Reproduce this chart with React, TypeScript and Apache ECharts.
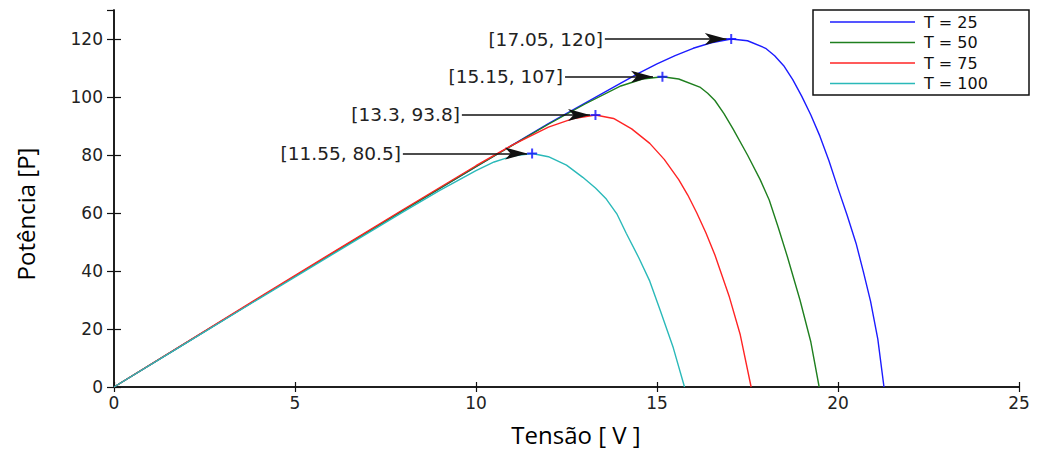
import React, { useEffect, useRef } from "react";
import * as echarts from "echarts";

// ---- data ----
const seriesNames = ["T = 25", "T = 50", "T = 75", "T = 100"];

const v25 = [0, 2, 4, 6, 8, 10, 12, 13, 14, 14.5, 15, 15.5, 16, 16.5, 17.05, 17.5, 18, 18.25, 18.5, 18.75, 19, 19.25, 19.5, 19.75, 20, 20.25, 20.5, 20.7, 20.9, 21.1, 21.27];
const p25 = [0, 15.3, 30.6, 45.8, 61, 76, 90.8, 97.8, 104.8, 108.2, 111.4, 114.3, 116.8, 118.7, 120, 119.4, 116.8, 114.2, 110.8, 106, 100.2, 93.8, 86.5, 78, 68.5, 59.3, 49.5, 39.8, 29.5, 16.5, 0];

const v50 = [0, 2, 4, 6, 8, 10, 12, 13, 14, 14.6, 15.15, 15.6, 16.2, 16.4, 16.6, 16.85, 17.1, 17.5, 17.85, 18.1, 18.35, 18.6, 18.95, 19.25, 19.48];
const p50 = [0, 15.3, 30.6, 45.8, 61, 76, 90.6, 97.5, 103.8, 106.2, 107, 106.2, 103.3, 101.3, 98.8, 94.3, 89, 80, 71.5, 64.5, 55, 45, 30, 15.5, 0];

const v75 = [0, 2, 4, 6, 8, 10, 11, 12, 12.7, 13.3, 13.8, 14.3, 14.8, 15.2, 15.6, 15.85, 16.1, 16.35, 16.6, 17, 17.3, 17.6];
const p75 = [0, 15.4, 30.8, 46.1, 61.3, 76.3, 83.4, 89.6, 92.6, 93.8, 92.6, 89, 84, 78.5, 71.5, 66.2, 60, 53.2, 45.5, 31, 18, 0];

const v100 = [0, 2, 4, 6, 8, 9, 10, 10.5, 11, 11.55, 12, 12.5, 12.95, 13.3, 13.6, 13.9, 14.15, 14.5, 14.8, 15.1, 15.45, 15.76];
const p100 = [0, 15.2, 30.4, 45.5, 60.5, 67.8, 74.6, 77.6, 79.6, 80.5, 79.4, 76.5, 72.3, 68.6, 64.8, 59.5, 53, 44.5, 36.5, 26, 13.5, 0];

const peakV = [17.05, 15.15, 13.3, 11.55];
const peakP = [120, 107, 93.8, 80.5];
// annotation arrow tail / tip (voltage) for each peak label
const arrowTailV = [13.56, 12.46, 9.61, 7.98];
const arrowTipV = [16.93, 14.89, 13.15, 11.41];

const xTicks = { min: 0, max: 25, interval: 5 };
const yTicks = { min: 0, max: 130, interval: 20 };

const colors = ["#1c1cff", "#1f7f1f", "#ff2424", "#2ab9b9"];

const curves = [
  [v25, p25],
  [v50, p50],
  [v75, p75],
  [v100, p100],
];

export default function App() {
  const ref = useRef<HTMLDivElement>(null);

  useEffect(() => {
    if (!ref.current) return;
    const chart = echarts.init(ref.current, undefined, { renderer: "svg" });
    const axisLine = { show: true, lineStyle: { color: "#111", width: 1.5 } };
    const labelFont = { fontFamily: "DejaVu Sans", fontSize: 17, color: "#222" };

    const lineSeries = curves.map(([vs, ps], i) => ({
      name: seriesNames[i],
      type: "line",
      data: vs.map((v, k) => [v, ps[k]]),
      symbol: "none",
      showSymbol: false,
      smooth: false,
      lineStyle: { color: colors[i], width: 1.4 },
      itemStyle: { color: colors[i] },
      z: 3,
    }));

    const markData = peakV.map((v, i) => [
      {
        coord: [arrowTailV[i], peakP[i]],
        symbol: "none",
        label: {
          show: true,
          position: "start",
          distance: 2,
          formatter: `[${v}, ${peakP[i]}]`,
          fontFamily: "DejaVu Sans",
          fontSize: 18.5,
          color: "#222",
        },
      },
      { coord: [arrowTipV[i], peakP[i]], symbol: "arrow", symbolSize: [9, 22] },
    ]);

    chart.setOption({
      animation: false,
      backgroundColor: "#fff",
      grid: { left: 114, right: 19, top: 10, bottom: 65, containLabel: false },
      xAxis: [
        {
          type: "value",
          ...xTicks,
          position: "bottom",
          axisLine,
          axisTick: { show: true, inside: true, length: 5, lineStyle: { color: "#111", width: 1.2 } },
          axisLabel: { ...labelFont, margin: 7 },
          splitLine: { show: false },
        },
        {
          type: "value",
          ...xTicks,
          position: "top",
          axisLine,
          axisTick: { show: true, inside: true, length: 5, lineStyle: { color: "#111", width: 1.2 } },
          axisLabel: { show: false },
          splitLine: { show: false },
        },
      ],
      yAxis: [
        {
          type: "value",
          ...yTicks,
          position: "left",
          axisLine,
          axisTick: { show: true, inside: true, length: 7, lineStyle: { color: "#111", width: 1.2 } },
          axisLabel: { ...labelFont, margin: 11, showMaxLabel: false },
          splitLine: { show: false },
        },
        {
          type: "value",
          ...yTicks,
          position: "right",
          axisLine,
          axisTick: { show: true, inside: true, length: 7, lineStyle: { color: "#111", width: 1.2 } },
          axisLabel: { show: false },
          splitLine: { show: false },
        },
      ],
      legend: {
        orient: "vertical",
        left: 825,
        top: 7,
        icon: "rect",
        itemWidth: 85,
        itemHeight: 1.6,
        itemGap: 0.5,
        z: 20,
        data: seriesNames,
        textStyle: {
          fontFamily: "DejaVu Sans",
          fontSize: 16,
          lineHeight: 20,
          color: "#111",
          padding: [0, 0, 0, 4],
        },
      },
      graphic: [
        {
          type: "rect",
          z: 15,
          shape: { x: 813, y: 10, width: 216, height: 85 },
          style: { fill: "#fff", stroke: "#111", lineWidth: 1.5 },
        },
        {
          type: "text",
          x: 576,
          y: 434,
          style: {
            text: "Tensão [ V ]",
            fontFamily: "Open Sans",
            fontSize: 24,
            fill: "#000",
            align: "center",
            verticalAlign: "middle",
            textAlign: "center",
            textVerticalAlign: "middle",
          },
        },
        {
          type: "text",
          x: 25,
          y: 214,
          rotation: Math.PI / 2,
          style: {
            text: "Potência [P]",
            fontFamily: "Open Sans",
            fontSize: 24,
            fill: "#000",
            align: "center",
            verticalAlign: "middle",
            textAlign: "center",
            textVerticalAlign: "middle",
          },
        },
      ],
      series: [
        ...lineSeries,
        {
          type: "scatter",
          data: peakV.map((v, i) => [v, peakP[i]]),
          symbol: "path://M4,0H6V4H10V6H6V10H4V6H0V4H4Z",
          symbolSize: 10,
          itemStyle: { color: "#1010ff" },
          z: 5,
          silent: true,
          markLine: {
            silent: true,
            animation: false,
            lineStyle: { color: "#111", width: 1.5, type: "solid" },
            itemStyle: { color: "#111" },
            data: markData,
          },
        },
      ],
    });
    return () => chart.dispose();
  }, []);

  return (
    <div
      ref={ref}
      style={{ position: "absolute", left: 0, top: 0, width: 1038, height: 452 }}
    />
  );
}
